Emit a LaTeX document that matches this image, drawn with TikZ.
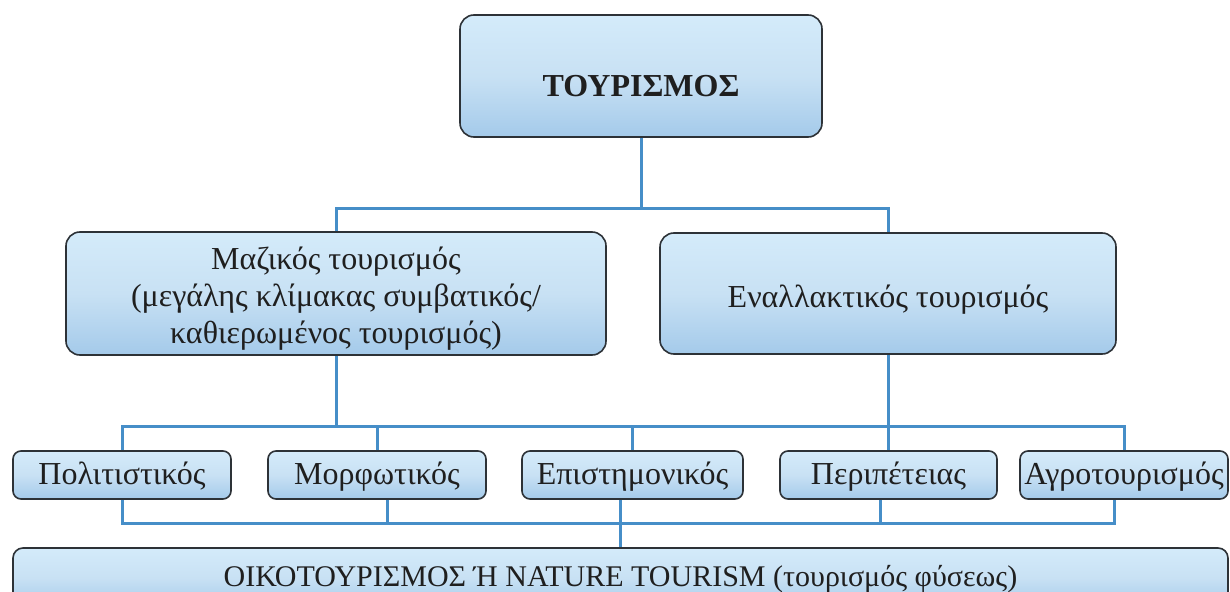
\documentclass[tikz,border=0pt]{standalone}
\usepackage{fontspec}
\setmainfont{Liberation Serif}
\usetikzlibrary{calc}
\definecolor{linkblue}{RGB}{70,142,200}
\definecolor{boxtop}{RGB}{212,235,250}
\definecolor{boxmid}{RGB}{200,225,244}
\definecolor{boxbot}{RGB}{164,202,234}
\definecolor{edgegray}{RGB}{45,50,55}
\begin{document}
\begin{tikzpicture}[x=1pt,y=-1pt,
  box/.style={draw=edgegray, line width=1.6pt, rounded corners=14pt,
    top color=boxtop, bottom color=boxbot, middle color=boxmid,
    text=black!88, align=center, inner sep=0pt},
  smallbox/.style={box, rounded corners=8pt, minimum height=48pt,
    font=\fontsize{32}{36}\selectfont,
    execute at begin node={\rule[-6pt]{0pt}{31pt}}},
  link/.style={draw=linkblue, line width=3pt}]
\useasboundingbox (0,0) rectangle (1230,591);
\clip (0,0) rectangle (1230,591);
\fill[white] (0,0) rectangle (1230,591);

% nodes
\node[box, minimum width=362pt, minimum height=122pt,
  font=\fontsize{32}{37}\selectfont\bfseries] (top) at (641,76)
  {\rule[-4pt]{0pt}{49pt}ΤΟΥΡΙΣΜΟΣ};
\node[box, minimum width=540pt, minimum height=121pt,
  font=\fontsize{32}{37}\selectfont] (mz) at (336,293.5)
  {\rule{0pt}{37pt}Μαζικός τουρισμός\\(μεγάλης κλίμακας συμβατικός/\\καθιερωμένος τουρισμός)\rule[-12pt]{0pt}{12pt}};
\node[box, minimum width=456pt, minimum height=121pt,
  font=\fontsize{32}{37}\selectfont] (ea) at (888,293.5)
  {\rule[-8pt]{0pt}{43pt}Εναλλακτικός τουρισμός};

\node[smallbox, minimum width=218pt] (b1) at (122,475) {Πολιτιστικός};
\node[smallbox, minimum width=218pt] (b2) at (377,475) {Μορφωτικός};
\node[smallbox, minimum width=221pt] (b3) at (632.5,475) {Επιστημονικός};
\node[smallbox, minimum width=217pt] (b4) at (888.5,475) {Περιπέτειας};
\node[smallbox, minimum width=208pt] (b5) at (1124,475) {Αγροτουρισμός};

\node[box, rounded corners=10pt, minimum width=1215pt, minimum height=60pt,
  font=\fontsize{30}{36}\selectfont] (eco) at (620.5,578)
  {\rule[-6pt]{0pt}{30pt}ΟΙΚΟΤΟΥΡΙΣΜΟΣ Ή NATURE TOURISM (τουρισμός φύσεως)};

% helper coordinates
\coordinate (hTop) at (641,208);
\coordinate (hMid) at (0,426);
\coordinate (hBot) at (0,523);
\coordinate (d1) at (b1.south);
\coordinate (d2) at ($(b2.south)+(10,0)$);
\coordinate (d3) at ($(b3.south)+(-12.5,0)$);
\coordinate (d4) at ($(b4.south)+(-8.5,0)$);
\coordinate (d5) at ($(b5.south)+(-10,0)$);

% connectors: top level
\draw[link] (top.south) -- (hTop);
\draw[link] (mz.north) |- (hTop) -| (ea.north);

% connectors: middle level
\draw[link] (b1.north) |- (b5.north |- hMid) -- (b5.north);
\draw[link] (mz.south) -- (mz.south |- hMid);
\draw[link] (ea.south) -- (ea.south |- hMid);
\draw[link] (b2.north) -- (b2.north |- hMid);
\draw[link] (b3.north) -- (b3.north |- hMid);
\draw[link] (b4.north) -- (b4.north |- hMid);

% connectors: bottom level
\draw[link] (d1) |- (d5 |- hBot) -- (d5);
\draw[link] (d2) -- (d2 |- hBot);
\draw[link] (d3) -- (d3 |- eco.north);
\draw[link] (d4) -- (d4 |- hBot);
\end{tikzpicture}
\end{document}
